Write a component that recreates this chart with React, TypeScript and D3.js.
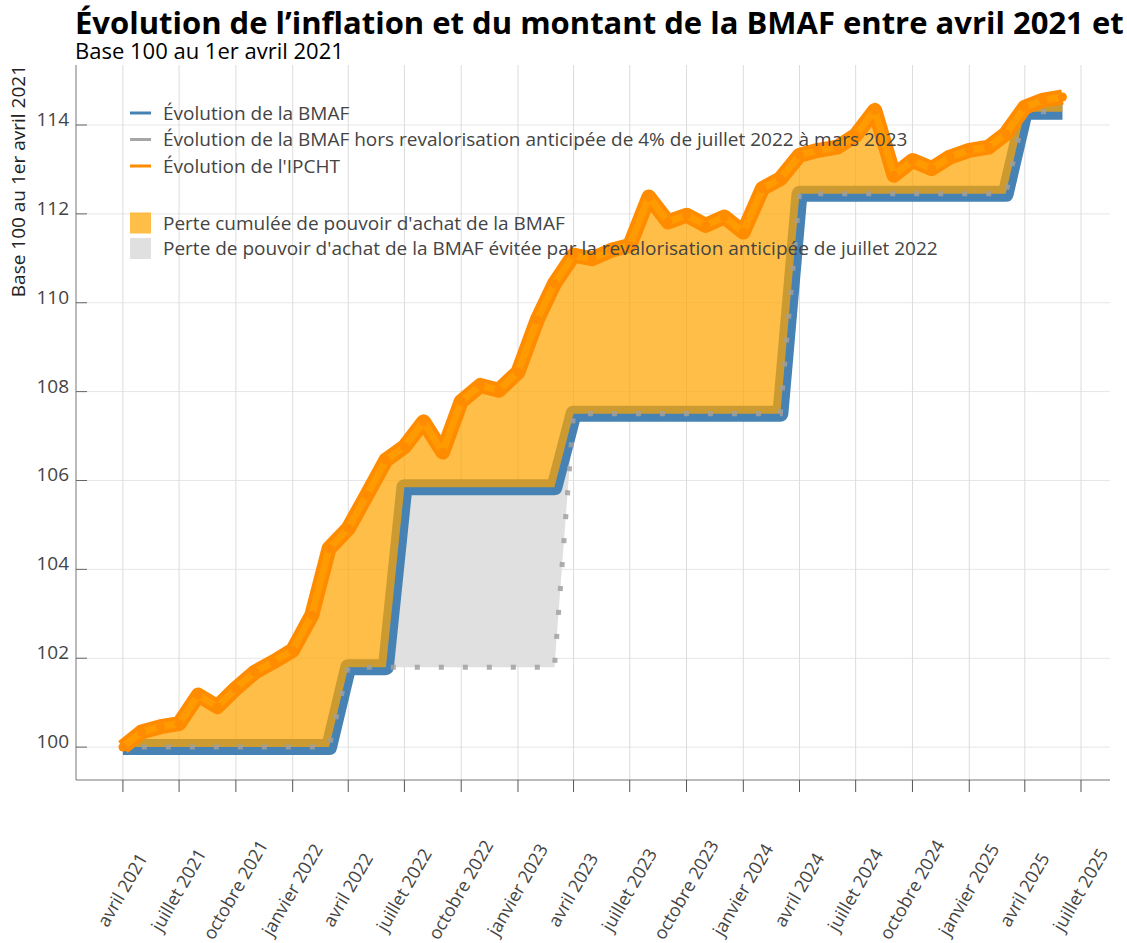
import * as d3 from 'd3';

// mois de avril 2021 à juin 2025
const firstMonth = new Date(Date.UTC(2021, 3, 1));
const lastMonth = new Date(Date.UTC(2025, 6, 1));
const months = d3.utcMonth.range(firstMonth, lastMonth);

const ipcht = [
  100.0, 100.34, 100.46, 100.53, 101.17, 100.91, 101.32, 101.69, 101.92,
  102.18, 102.97, 104.47, 104.92, 105.67, 106.46, 106.76, 107.32, 106.64, 107.78, 108.14, 108.03,
  108.44, 109.61, 110.43, 111.07, 110.99, 111.18, 111.29, 112.38, 111.82, 111.97, 111.74, 111.93,
  111.59, 112.57, 112.79, 113.32, 113.43, 113.5, 113.77, 114.33, 112.87, 113.2, 113.02, 113.28,
  113.43, 113.5, 113.8, 114.4, 114.56, 114.63,
];

const bmaf = [
  100, 100, 100, 100, 100, 100, 100, 100, 100,
  100, 100, 100, 101.8, 101.8, 101.8, 105.85, 105.85, 105.85, 105.85, 105.85, 105.85,
  105.85, 105.85, 105.85, 107.5, 107.5, 107.5, 107.5, 107.5, 107.5, 107.5, 107.5, 107.5,
  107.5, 107.5, 107.5, 112.45, 112.45, 112.45, 112.45, 112.45, 112.45, 112.45, 112.45, 112.45,
  112.45, 112.45, 112.45, 114.3, 114.3, 114.3,
];

const bmafHorsReval = [
  100, 100, 100, 100, 100, 100, 100, 100, 100,
  100, 100, 100, 101.8, 101.8, 101.8, 101.8, 101.8, 101.8, 101.8, 101.8, 101.8,
  101.8, 101.8, 101.8, 107.5, 107.5, 107.5, 107.5, 107.5, 107.5, 107.5, 107.5, 107.5,
  107.5, 107.5, 107.5, 112.45, 112.45, 112.45, 112.45, 112.45, 112.45, 112.45, 112.45, 112.45,
  112.45, 112.45, 112.45, 114.3, 114.3, 114.3,
];

const xTickLabels = [
  'avril 2021', 'juillet 2021', 'octobre 2021', 'janvier 2022',
  'avril 2022', 'juillet 2022', 'octobre 2022', 'janvier 2023',
  'avril 2023', 'juillet 2023', 'octobre 2023', 'janvier 2024',
  'avril 2024', 'juillet 2024', 'octobre 2024', 'janvier 2025',
  'avril 2025', 'juillet 2025',
];
const yTicks = [100, 102, 104, 106, 108, 110, 112, 114];

const legendLines = [
  { label: 'Évolution de la BMAF', color: '#4682b4' },
  { label: 'Évolution de la BMAF hors revalorisation anticipée de 4% de juillet 2022 à mars 2023', color: '#a6a6a6' },
  { label: "Évolution de l'IPCHT", color: '#ff8c00' },
];
const legendAreas = [
  { label: "Perte cumulée de pouvoir d'achat de la BMAF", color: 'rgba(255,165,0,0.72)' },
  { label: "Perte de pouvoir d'achat de la BMAF évitée par la revalorisation anticipée de juillet 2022", color: '#e0e0e0' },
];

const W = 1127;
const H = 943;
const FONT = "'Open Sans', 'Noto Sans', sans-serif";

export default function App() {
  const x = d3.scaleUtc()
    .domain([new Date(Date.UTC(2021, 0, 15)), new Date(Date.UTC(2025, 7, 17))])
    .range([76, 1110]);
  const y = d3.scaleLinear().domain([99.26, 115.35]).range([780, 65]);

  const xTicks = d3.utcMonth.every(3)!.range(firstMonth, new Date(Date.UTC(2025, 6, 2)));

  const line = (vals: number[]) =>
    d3.line<number>().x((_, i) => x(months[i])).y(d => y(d))(vals) || '';

  const greyArea = d3.area<number>()
    .x((_, i) => x(months[i]))
    .y0((_, i) => y(bmafHorsReval[i]))
    .y1(d => y(d))(bmaf) || '';

  const orangeArea = d3.area<number>()
    .x((_, i) => x(months[i]))
    .y0((_, i) => y(bmaf[i]))
    .y1(d => y(d))(ipcht) || '';

  return (
    <svg width={W} height={H} style={{ position: 'absolute', left: 0, top: 0, fontFamily: FONT }}>
      <rect width={W} height={H} fill="#fff" />

      {/* grille */}
      {yTicks.map(t => (
        <line key={'gy' + t} x1={76} x2={1110} y1={y(t)} y2={y(t)} stroke="#e6e6e6" />
      ))}
      {xTicks.map((d, i) => (
        <line key={'gx' + i} x1={x(d)} x2={x(d)} y1={65} y2={780} stroke="#dcdcdc" />
      ))}

      {/* aires et courbes */}
      <path d={greyArea} fill="#e0e0e0" />
      <path d={line(bmaf)} fill="none" stroke="#4682b4" strokeWidth={16}
        strokeLinejoin="round" strokeLinecap="butt" />
      <path d={orangeArea} fill="rgba(255,165,0,0.72)" />
      <path d={line(bmafHorsReval)} fill="none" stroke="#a0a0a0" strokeOpacity={0.85}
        strokeWidth={5} strokeDasharray="5 19" strokeDashoffset={-19} />
      <path d={line(ipcht)} fill="none" stroke="#ff8c00" strokeWidth={15}
        strokeLinejoin="round" strokeLinecap="butt" />
      <path d={line(ipcht)} fill="none" stroke="#ff9a00" strokeWidth={7}
        strokeLinejoin="round" strokeLinecap="butt" />
      {ipcht.map((v, i) => (
        <circle key={'m' + i} cx={x(months[i])} cy={y(v)} r={4.5} fill="#ff8c00" />
      ))}

      {/* axes */}
      <line x1={76} x2={76} y1={65} y2={780} stroke="#777" />
      <line x1={76} x2={1110} y1={780} y2={780} stroke="#777" />
      {yTicks.map(t => (
        <g key={'ty' + t}>
          <line x1={76} x2={87} y1={y(t)} y2={y(t)} stroke="#666" />
          <text x={69} y={y(t) + 1} textAnchor="end" fontSize={19} fill="#444">{t}</text>
        </g>
      ))}
      {xTicks.map((d, i) => (
        <g key={'tx' + i}>
          <line x1={x(d)} x2={x(d)} y1={780} y2={792} stroke="#555" />
          <text transform={`translate(${x(d) + 5},893) rotate(-60)`} textAnchor="middle"
            fontSize={18} fill="#444">{xTickLabels[i]}</text>
        </g>
      ))}
      <text transform="translate(25,65) rotate(-90)" textAnchor="end" fontSize={19} fill="#222">
        Base 100 au 1er avril 2021
      </text>

      {/* légende */}
      {legendLines.map((l, i) => (
        <g key={'ll' + i} transform={`translate(130,${113 + i * 26.5})`}>
          <line x1={0} x2={21} y1={0} y2={0} stroke={l.color} strokeWidth={3} />
          <text x={33} dy="0.35em" fontSize={19} fill="#444">{l.label}</text>
        </g>
      ))}
      {legendAreas.map((l, i) => (
        <g key={'la' + i} transform={`translate(130,${223 + i * 25.5})`}>
          <rect x={0} y={-10.5} width={21} height={21} fill={l.color} />
          <text x={33} dy="0.35em" fontSize={19} fill="#444">{l.label}</text>
        </g>
      ))}

      {/* titres */}
      <text x={75} y={34} fontSize={31} fontWeight="bold" fill="#000">
        Évolution de l’inflation et du montant de la BMAF entre avril 2021 et
      </text>
      <text x={75} y={59} fontSize={22} fill="#000">Base 100 au 1er avril 2021</text>
    </svg>
  );
}
